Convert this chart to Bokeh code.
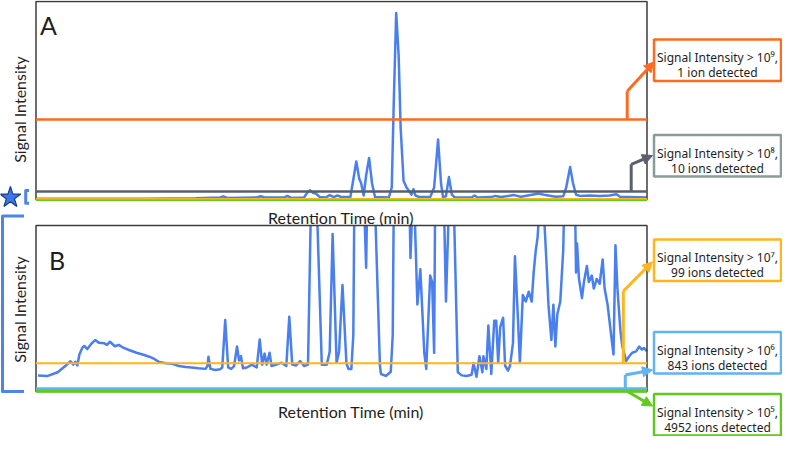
import numpy as np
from bokeh.plotting import figure
from bokeh.models import Range1d, Arrow, NormalHead
from bokeh.core.properties import value
from bokeh.embed import file_html
from bokeh.resources import INLINE

# ---------------- data ----------------
# Panel A: retention time (min) vs signal intensity (units of 1e8 counts)
rt_a = [0.0, 2.1, 6.1, 11.1, 16.1, 18.6, 18.9, 19.3, 22.3, 22.7, 23.1, 25.1, 25.4, 25.8,
        27.1, 27.4, 27.7, 28.0, 28.3, 28.7, 29.3, 29.7, 30.1, 30.5, 30.9, 31.8, 32.1, 32.4,
        32.7, 32.9, 33.15, 33.4, 33.7, 34.0, 34.3, 35.7, 36.0, 36.2, 36.45, 36.7, 36.9, 37.2,
        37.5, 37.8, 38.0, 38.2, 38.4, 38.8, 39.9, 40.3, 40.7, 41.0, 41.2, 41.5, 41.8, 42.1,
        42.4, 44.1, 44.4, 44.7, 46.1, 46.5, 47.1, 48.4, 49.1, 50.1, 50.9, 51.6, 52.6, 53.4,
        53.7, 54.1, 54.4, 54.7, 55.1, 56.1, 57.1, 58.1, 58.8, 59.2, 60.1, 61.9]
intensity_a = [0.1, 0.1, 0.1, 0.1, 0.15, 0.25, 0.4, 0.2, 0.25, 0.4, 0.25, 0.25, 0.45, 0.2,
               0.25, 0.8, 1.15, 0.85, 0.75, 0.3, 0.25, 0.55, 0.3, 0.5, 0.3, 0.3, 2.5, 4.75,
               2.6, 2.0, 0.5, 3.0, 5.2, 2.0, 0.3, 0.25, 1.5, 12.0, 23.3, 18.0, 9.0, 2.3,
               1.5, 1.0, 0.6, 1.3, 0.5, 0.3, 0.3, 1.5, 7.5, 2.0, 0.3, 0.4, 2.8, 0.6,
               0.25, 0.25, 0.5, 0.25, 0.3, 0.45, 0.3, 0.55, 0.35, 0.55, 0.75, 0.55, 0.35, 0.4,
               1.5, 4.05, 2.0, 0.6, 0.45, 0.5, 0.45, 0.5, 0.65, 0.3, 0.3, 0.25]

# Panel B: same run, zoomed (units of 1e6 counts)
rt_b = [0.1, 1.1, 2.1, 2.9, 3.4, 3.7, 3.9, 4.1, 4.3, 4.6, 4.8, 5.1, 5.5, 5.9, 6.3, 6.8, 7.1,
        7.4, 7.9, 8.3, 8.8, 9.4, 10.1, 10.8, 11.4, 11.9, 12.4, 13.1, 13.8, 14.4, 15.1, 15.7,
        16.4, 17.1, 17.3, 17.4, 17.6, 18.1, 18.6, 18.8, 19.1, 19.4, 19.7, 20.0, 20.3, 20.5,
        20.7, 20.9, 21.3, 21.8, 22.3, 22.6, 22.85, 23.1, 23.3, 23.6, 23.8, 24.3, 24.8, 25.3,
        25.6, 25.9, 26.3, 26.7, 27.1, 27.5, 27.8, 28.4, 28.9, 29.4, 29.7, 30.0, 30.4, 30.65,
        31.0, 31.4, 31.6, 31.9, 32.1, 32.2, 33.2, 33.4, 33.5, 34.3, 34.8, 34.9, 35.4, 35.9,
        36.1, 36.2, 37.8, 37.9, 38.1, 38.3, 38.6, 38.9, 39.3, 39.5, 39.9, 40.1, 40.3, 40.4,
        41.3, 41.5, 41.8, 42.3, 42.7, 43.1, 43.6, 44.1, 44.3, 44.6, 44.9, 45.2, 45.3, 45.6,
        45.8, 46.1, 46.4, 46.6, 46.8, 47.0, 47.3, 47.5, 47.8, 48.0, 48.3, 48.5, 48.8, 49.0,
        49.3, 49.6, 49.9, 50.2, 50.4, 50.6, 50.8, 51.0, 51.4, 51.7, 51.9, 52.2, 52.4, 52.6,
        52.8, 53.1, 53.4, 53.5, 54.6, 54.7, 54.8, 55.0, 55.3, 55.5, 55.8, 56.0, 56.3, 56.5,
        56.8, 57.1, 57.4, 57.6, 57.9, 58.3, 58.5, 58.7, 58.9, 59.2, 59.4, 59.8, 60.1, 60.4,
        60.8, 61.1, 61.4, 61.6, 61.9]
intensity_b = [5.7, 5.5, 6.8, 9.1, 10.7, 9.5, 10.5, 9.2, 13.1, 15.5, 16.1, 15.0, 16.8, 18.2,
               17.2, 17.1, 16.5, 17.6, 16.0, 16.5, 15.4, 14.6, 13.7, 13.0, 12.3, 11.5, 10.4,
               10.0, 9.7, 9.0, 8.7, 8.5, 8.2, 8.0, 9.0, 12.3, 8.0, 7.6, 7.9, 8.5, 25.3, 8.5,
               8.0, 9.0, 15.9, 11.0, 12.5, 8.2, 8.5, 9.5, 8.5, 18.4, 9.5, 13.4, 9.5, 13.7, 9.0,
               9.5, 10.2, 9.0, 26.4, 9.5, 9.2, 10.8, 9.0, 9.5, 66.0, 66.0, 9.5, 9.5, 14.0, 55.7,
               10.2, 14.0, 37.7, 10.0, 8.0, 8.0, 20.0, 66.0, 66.0, 43.8, 66.0, 66.0, 9.1, 6.2,
               5.5, 7.0, 20.0, 66.0, 66.0, 47.2, 66.0, 66.0, 30.8, 43.2, 13.7, 8.0, 41.0, 38.7,
               13.7, 66.0, 66.0, 31.8, 66.0, 66.0, 6.8, 5.7, 5.5, 5.9, 10.0, 5.2, 12.5, 6.8,
               12.5, 8.0, 23.3, 6.2, 25.0, 25.0, 10.2, 22.7, 26.1, 9.1, 7.4, 9.1, 17.1, 47.8,
               26.1, 10.2, 34.1, 31.8, 35.3, 31.8, 42.1, 49.5, 54.6, 66.0, 66.0, 45.5, 30.7,
               18.2, 30.7, 15.9, 27.3, 31.8, 50.1, 66.0, 66.0, 42.1, 52.3, 39.8, 33.0, 38.7,
               44.4, 38.7, 41.0, 36.4, 39.8, 38.1, 46.7, 36.4, 30.7, 18.8, 13.1, 51.7, 36.4,
               21.6, 15.9, 10.8, 12.5, 13.7, 14.2, 15.9, 14.8, 15.4, 14.2]

threshold_exponents = [9, 8, 7, 6, 5]
threshold_superscripts = ["\u2079", "\u2078", "\u2077", "\u2076", "\u2075"]
ions_detected = [1, 10, 99, 843, 4952]
callout_line1 = ["Signal Intensity > 10" + s + "," for s in threshold_superscripts]
callout_line2 = ["1 ion detected", "10 ions detected", "99 ions detected",
                 "843 ions detected", "4952 ions detected"]
panel_letters = ["A", "B"]
x_label = "Retention Time (min)"
y_label = "Signal Intensity"

# ---------------- style / layout ----------------
W, H = 782, 436
FONT = value("Lato")
BOX_FONT = value("Noto Sans")
TEXT = "#1e1e1e"
BLUE = "#4a7ff0"
ORANGE = "#ff6a21"
DARK = "#59606a"
GRAYBOX = "#8a9b9b"
YELLOW = "#ffb61e"
LBLUE = "#62b3f2"
GREEN = "#5fcb1f"
OUTLINE = "#3c3c3c"
BRACKET = "#4a86e8"

RT0, RT1 = -0.1, 61.9
FL, FR = 35.5, 646.5
A_TOP, A_BASE, A_MAX = 1.0, 199.0, 24.75     # 1e8 units
B_TOP, B_BASE, B_MAX = 225.0, 391.0, 58.7    # 1e6 units

p = figure(width=W, height=H, x_range=Range1d(0, W), y_range=Range1d(H, 0),
           output_backend="svg", toolbar_location=None, min_border=0,
           x_axis_type=None, y_axis_type=None, outline_line_color=None)
p.background_fill_color = "white"

sx = (FR - FL) / (RT1 - RT0)
perA = (A_BASE - A_TOP) / A_MAX
perB = (B_BASE - B_TOP) / B_MAX
p.extra_x_ranges = {"rt": Range1d(RT0 - FL / sx, RT0 + (W - FL) / sx)}
p.extra_y_ranges = {"A": Range1d((A_BASE - H) / perA, A_BASE / perA),
                    "B": Range1d((B_BASE - H) / perB, B_BASE / perB)}


def clip_top(x, y, top):
    xs, ys = [], []
    for i in range(len(x)):
        if i > 0:
            x0, y0, x1, y1 = x[i - 1], y[i - 1], x[i], y[i]
            if (y0 - top) * (y1 - top) < 0:
                xs.append(x0 + (top - y0) * (x1 - x0) / (y1 - y0))
                ys.append(top)
                if y1 > top:
                    xs.append(np.nan)
                    ys.append(np.nan)
        if y[i] <= top:
            xs.append(x[i])
            ys.append(y[i])
    return xs, ys


# traces
p.line(rt_a, intensity_a, x_range_name="rt", y_range_name="A",
       line_color=BLUE, line_width=2.5, line_join="round")
xb, yb = clip_top(rt_b, intensity_b, B_MAX)
p.line(xb, yb, x_range_name="rt", y_range_name="B",
       line_color=BLUE, line_width=2.5, line_join="round")

# frames
p.quad(left=[FL, FL], right=[FR, FR], top=[A_TOP, B_TOP], bottom=[A_BASE, B_BASE],
       fill_color=None, line_color=OUTLINE, line_width=1.5)

# thresholds
styles = {9: (ORANGE, 2.5), 8: (DARK, 2.5), 7: (YELLOW, 2.0), 6: (LBLUE, 3.0), 5: (GREEN, 3.0)}
for panel, unit, exps in (("A", 1e8, [6, 5, 7, 8, 9]), ("B", 1e6, [7, 6, 5])):
    for e in exps:
        thr = 10 ** e / unit
        c, w = styles[e]
        if panel == "A" and e == 7:
            w = 1.5
        p.segment(x0=[RT0], x1=[RT1], y0=[thr], y1=[thr], x_range_name="rt",
                  y_range_name=panel, line_color=c, line_width=w)


def stem_y(panel, e):
    if panel == "A":
        return A_BASE - (10 ** e / 1e8) * perA
    return B_BASE - (10 ** e / 1e6) * perB


# callouts: exponent, panel, stem x, knee y, tip x, tip y, box top, line colour, box colour
callouts = [
    (9, "A", 626.7, 90.7, 653.5, 61.4, 39.0, ORANGE, ORANGE),
    (8, "A", 630.7, 163.8, 652.0, 155.0, 134.6, DARK, GRAYBOX),
    (7, "B", 622.8, 290.6, 652.0, 261.3, 238.9, YELLOW, YELLOW),
    (6, "B", 624.8, 374.4, 652.0, 369.5, 331.5, LBLUE, LBLUE),
    (5, "B", 626.7, None, 652.0, 405.6, 393.6, GREEN, GREEN),
]
BOX_L, BOX_R, BOX_H = 653.5, 780.5, 41.5
for (e, panel, sxp, knee, tx, ty, btop, lc, bc), l1, l2 in zip(callouts, callout_line1, callout_line2):
    y0 = stem_y(panel, e)
    if knee is not None:
        p.line([sxp, sxp], [y0, knee], line_color=lc, line_width=3, line_cap="butt")
        ys = knee
    else:
        ys = y0
    p.add_layout(Arrow(end=NormalHead(size=10, fill_color=lc, line_color=lc, line_width=1),
                       x_start=sxp, y_start=ys, x_end=tx, y_end=ty,
                       line_color=lc, line_width=3))
    p.quad(left=[BOX_L], right=[BOX_R], top=[btop], bottom=[btop + BOX_H],
           fill_color="white", line_color=bc, line_width=2.5)
    cx = (BOX_L + BOX_R) / 2
    p.text(x=[cx, cx], y=[btop + 18.0, btop + 33.3], text=[l1, l2], text_font=BOX_FONT,
           text_font_size="12px", text_color=TEXT, text_align="center",
           text_baseline="alphabetic")

# panel letters
p.text(x=[39.5, 48.4], y=[24.4, 259.4], text=panel_letters, text_font=FONT,
       text_font_size="25px", text_color=TEXT, text_align="left", text_baseline="alphabetic")
# axis titles
p.text(x=[340.5, 350.4], y=[216.5, 410.7], text=[x_label, x_label], text_font=FONT,
       text_font_size="16px", text_color=TEXT, text_align="center", text_baseline="alphabetic")
p.text(x=[18.8, 18.8], y=[109.0, 309.0], text=[y_label, y_label], text_font=FONT,
       text_font_size="16px", text_color=TEXT, text_align="center", text_baseline="middle",
       angle=np.pi / 2)

# zoom markers: star + brackets
p.scatter([9.9], [197.0], marker="star", size=22, fill_color="#3c78e6",
          line_color="#1b3d8c", line_width=1.2)
p.line([28.6, 25.2, 25.2, 28.6], [190.1, 190.1, 202.8, 202.8], line_color=BRACKET,
       line_width=3, line_join="round")
p.line([23.5, 2.0, 2.0, 23.5], [215.5, 215.5, 391.0, 391.0], line_color=BRACKET,
       line_width=3, line_join="round")

open("out.html", "w").write(file_html(p, INLINE))
